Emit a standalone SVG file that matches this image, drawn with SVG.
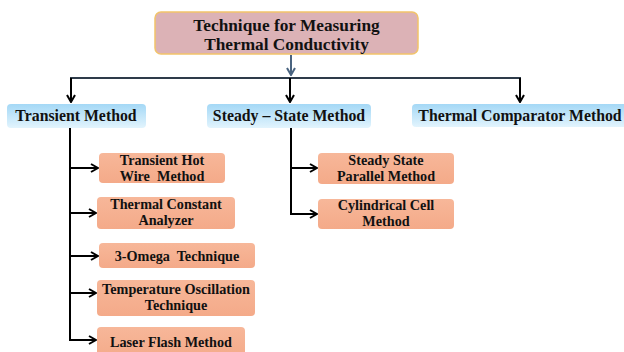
<svg xmlns="http://www.w3.org/2000/svg" width="624" height="352" viewBox="0 0 624 352">
  <defs>
    <linearGradient id="blueFill" x1="0" y1="0" x2="0" y2="1">
      <stop offset="0" stop-color="#a4d8f6"/>
      <stop offset="1" stop-color="#e2f4fd"/>
    </linearGradient>
    <linearGradient id="orangeFill" x1="0" y1="0" x2="0" y2="1">
      <stop offset="0" stop-color="#f7b799"/>
      <stop offset="1" stop-color="#f4aa89"/>
    </linearGradient>
    <marker id="chev" viewBox="0 0 10 10" refX="9" refY="5" markerWidth="10" markerHeight="10" markerUnits="userSpaceOnUse" orient="auto">
      <polyline points="2,1 9,5 2,9" fill="none" stroke="#000" stroke-width="2"/>
    </marker>
    <marker id="chevBlue" viewBox="0 0 10 10" refX="9" refY="5" markerWidth="10" markerHeight="10" markerUnits="userSpaceOnUse" orient="auto">
      <polyline points="2,1 9,5 2,9" fill="none" stroke="#4a6480" stroke-width="2"/>
    </marker>
  </defs>
  <style>
    text { font-family: "Liberation Serif", "Times New Roman", serif; font-weight: bold; fill: #111; text-anchor: middle; }
    .t0 { font-size: 17.3px; }
    .t1 { font-size: 15.8px; }
    .t2 { font-size: 14.2px; }
    .root { fill: #dcb2b6; stroke: #f2c46a; stroke-width: 1.5; }
    .blue { fill: url(#blueFill); }
    .orange { fill: url(#orangeFill); }
    .link { fill: none; stroke: #000; stroke-width: 2; }
  </style>
  <rect width="624" height="352" fill="#ffffff"/>

  <g id="connectors">
    <line x1="291" y1="55" x2="291" y2="75" stroke="#4a6480" stroke-width="2" marker-end="url(#chevBlue)"/>
    <line x1="70" y1="78" x2="521" y2="78" stroke="#2e3b4a" stroke-width="2"/>
    <line class="link" x1="71" y1="78" x2="71" y2="102" marker-end="url(#chev)"/>
    <line class="link" x1="290" y1="78" x2="290" y2="102" marker-end="url(#chev)"/>
    <line class="link" x1="520" y1="78" x2="520" y2="102" marker-end="url(#chev)"/>
    <!-- transient branch -->
    <polyline class="link" points="70,128 70,340 96,340" marker-end="url(#chev)"/>
    <line class="link" x1="70" y1="168" x2="98" y2="168" marker-end="url(#chev)"/>
    <line class="link" x1="70" y1="213" x2="96" y2="213" marker-end="url(#chev)"/>
    <line class="link" x1="70" y1="256" x2="98" y2="256" marker-end="url(#chev)"/>
    <line class="link" x1="70" y1="293" x2="96" y2="293" marker-end="url(#chev)"/>
    <!-- steady-state branch -->
    <polyline class="link" points="291,128 291,214 317,214" marker-end="url(#chev)"/>
    <line class="link" x1="291" y1="168" x2="317" y2="168" marker-end="url(#chev)"/>
  </g>

  <g id="root">
    <rect class="root" x="155" y="12" width="263" height="42" rx="6"/>
    <text class="t0" x="286.5" y="31">Technique for Measuring</text>
    <text class="t0" x="286.5" y="50">Thermal Conductivity</text>
  </g>

  <g id="transient">
    <rect class="blue" x="7" y="104" width="139" height="24" rx="4"/>
    <text class="t1" x="76" y="121">Transient Method</text>
  </g>
  <g id="steady">
    <rect class="blue" x="207" y="104" width="164" height="24" rx="4"/>
    <text class="t1" x="289" y="121">Steady – State Method</text>
  </g>
  <g id="comparator">
    <rect class="blue" x="412" y="104" width="216" height="23" rx="4"/>
    <text class="t1" x="520" y="121">Thermal Comparator Method</text>
  </g>

  <g id="hotwire">
    <rect class="orange" x="99" y="153" width="126" height="30" rx="4"/>
    <text class="t2" x="162" y="165">Transient Hot</text>
    <text class="t2" x="162" y="181" xml:space="preserve">Wire  Method</text>
  </g>
  <g id="analyzer">
    <rect class="orange" x="97" y="197" width="138" height="32" rx="4"/>
    <text class="t2" x="166" y="209">Thermal Constant</text>
    <text class="t2" x="166" y="225">Analyzer</text>
  </g>
  <g id="omega">
    <rect class="orange" x="99" y="243" width="156" height="25" rx="4"/>
    <text class="t2" x="177" y="261" xml:space="preserve">3-Omega  Technique</text>
  </g>
  <g id="oscillation">
    <rect class="orange" x="97" y="280" width="158" height="36" rx="4"/>
    <text class="t2" x="176" y="294">Temperature Oscillation</text>
    <text class="t2" x="176" y="310">Technique</text>
  </g>
  <g id="laserflash">
    <rect class="orange" x="97" y="327" width="148" height="32" rx="4"/>
    <text class="t2" x="171" y="347">Laser Flash Method</text>
  </g>

  <g id="parallel">
    <rect class="orange" x="318" y="153" width="136" height="31" rx="4"/>
    <text class="t2" x="386" y="165">Steady State</text>
    <text class="t2" x="386" y="181">Parallel Method</text>
  </g>
  <g id="cylindrical">
    <rect class="orange" x="318" y="199" width="136" height="30" rx="4"/>
    <text class="t2" x="386" y="210">Cylindrical Cell</text>
    <text class="t2" x="386" y="226">Method</text>
  </g>
</svg>
